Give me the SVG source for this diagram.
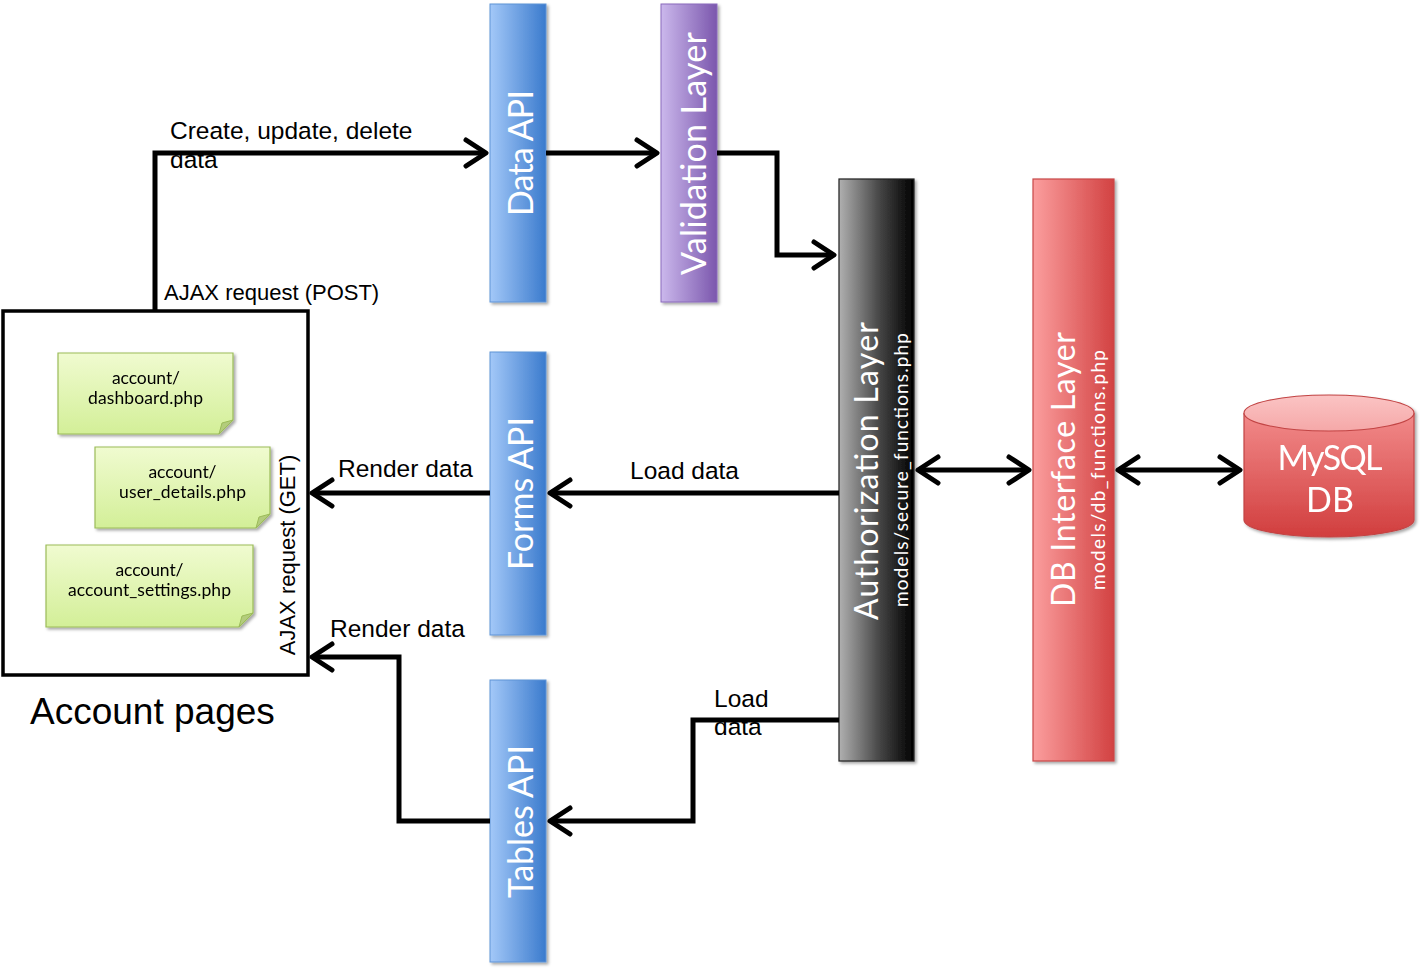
<svg xmlns="http://www.w3.org/2000/svg" width="1422" height="974" viewBox="0 0 1422 974">
<style>
.lbl{font-family:"Liberation Sans",Arial,sans-serif;fill:#000;}
.bar{font-family:Lato,"Open Sans",sans-serif;fill:#fff;font-weight:400;}
.note{font-family:Lato,"Open Sans",sans-serif;fill:#000;font-size:17.5px;text-anchor:middle;}
.conn{fill:none;stroke:#000;stroke-width:5;stroke-linejoin:miter;}
</style>
<defs>
<linearGradient id="gBlue" x1="0" y1="0" x2="1" y2="0"><stop offset="0" stop-color="#a3c8f8"/><stop offset="1" stop-color="#3b7bcd"/></linearGradient>
<linearGradient id="gPurple" x1="0" y1="0" x2="1" y2="0"><stop offset="0" stop-color="#cbb8ec"/><stop offset="1" stop-color="#7b57ad"/></linearGradient>
<linearGradient id="gBlack" x1="0" y1="0" x2="1" y2="0"><stop offset="0" stop-color="#b0b0b0"/><stop offset="0.55" stop-color="#444"/><stop offset="1" stop-color="#000"/></linearGradient>
<linearGradient id="gRed" x1="0" y1="0" x2="1" y2="0"><stop offset="0" stop-color="#fb9e9e"/><stop offset="1" stop-color="#d24242"/></linearGradient>
<linearGradient id="gCyl" x1="0" y1="0" x2="0" y2="1"><stop offset="0" stop-color="#f28a8a"/><stop offset="1" stop-color="#d13e3e"/></linearGradient>
<linearGradient id="gCylTop" x1="0" y1="0" x2="0" y2="1"><stop offset="0" stop-color="#fbc4c4"/><stop offset="1" stop-color="#f5a8a8"/></linearGradient>
<linearGradient id="gNote" x1="0" y1="0" x2="0" y2="1"><stop offset="0" stop-color="#f0fbd0"/><stop offset="1" stop-color="#d3ef98"/></linearGradient>
<filter id="sh" x="-20%" y="-20%" width="140%" height="140%"><feDropShadow dx="2" dy="2" stdDeviation="1.5" flood-color="#000" flood-opacity="0.35"/></filter>
<marker id="arr" viewBox="-24 -16 28 32" refX="0" refY="0" markerWidth="28" markerHeight="32" markerUnits="userSpaceOnUse" orient="auto-start-reverse">
<path d="M-20,-13 L0,0 L-20,13" fill="none" stroke="#000" stroke-width="5" stroke-linecap="round" stroke-linejoin="round"/>
</marker>
</defs>
<rect width="1422" height="974" fill="#fff"/>

<g id="account-pages">
<rect x="3" y="311" width="305" height="364" fill="#fff" stroke="#000" stroke-width="3.5"/>
<text class="lbl" x="30" y="724" font-size="37">Account pages</text>
<text class="lbl" font-size="22" text-anchor="middle" transform="translate(295,555) rotate(-90)">AJAX request (GET)</text>
</g>

<g id="note-dashboard" filter="url(#sh)">
<path d="M58,353 H233 V420 L219,434 H58 Z" fill="url(#gNote)" stroke="#9bbb59" stroke-width="1.2"/>
<path d="M233,420 L219,434 L222,423 Z" fill="#b3cc7c" stroke="#9bbb59" stroke-width="1"/>
<text class="note" x="146" y="384" textLength="68">account/</text>
<text class="note" x="145.5" y="404" textLength="115">dashboard.php</text>
</g>
<g id="note-user-details" filter="url(#sh)">
<path d="M95,447 H270 V514 L256,528 H95 Z" fill="url(#gNote)" stroke="#9bbb59" stroke-width="1.2"/>
<path d="M270,514 L256,528 L259,517 Z" fill="#b3cc7c" stroke="#9bbb59" stroke-width="1"/>
<text class="note" x="182.5" y="478" textLength="68">account/</text>
<text class="note" x="182.5" y="498" textLength="127">user_details.php</text>
</g>
<g id="note-account-settings" filter="url(#sh)">
<path d="M46,545 H253 V613 L239,627 H46 Z" fill="url(#gNote)" stroke="#9bbb59" stroke-width="1.2"/>
<path d="M253,613 L239,627 L242,616 Z" fill="#b3cc7c" stroke="#9bbb59" stroke-width="1"/>
<text class="note" x="149.5" y="576" textLength="68">account/</text>
<text class="note" x="149.5" y="596" textLength="163">account_settings.php</text>
</g>

<g id="data-api">
<rect x="490" y="4" width="56" height="298" fill="url(#gBlue)" stroke="#5f93d6" stroke-width="1" filter="url(#sh)"/>
<text class="bar" font-size="34" text-anchor="middle" textLength="126" transform="translate(533,153) rotate(-90)">Data API</text>
</g>
<g id="validation-layer">
<rect x="661" y="4" width="56" height="298" fill="url(#gPurple)" stroke="#8a6abb" stroke-width="1" filter="url(#sh)"/>
<text class="bar" font-size="34" text-anchor="middle" textLength="243" transform="translate(706,153.5) rotate(-90)">Validation Layer</text>
</g>
<g id="forms-api">
<rect x="490" y="352" width="56" height="283" fill="url(#gBlue)" stroke="#5f93d6" stroke-width="1" filter="url(#sh)"/>
<text class="bar" font-size="34" text-anchor="middle" textLength="153" transform="translate(533,493.5) rotate(-90)">Forms API</text>
</g>
<g id="tables-api">
<rect x="490" y="680" width="56" height="282" fill="url(#gBlue)" stroke="#5f93d6" stroke-width="1" filter="url(#sh)"/>
<text class="bar" font-size="34" text-anchor="middle" textLength="153" transform="translate(533,821.5) rotate(-90)">Tables API</text>
</g>
<g id="authorization-layer">
<rect x="839" y="179" width="75" height="582" fill="url(#gBlack)" stroke="#222" stroke-width="1.2" filter="url(#sh)"/>
<text class="bar" font-size="32" text-anchor="middle" textLength="298" transform="translate(878,471) rotate(-90)">Authorization Layer</text>
<text class="bar" font-size="19" text-anchor="middle" textLength="274" transform="translate(908,470) rotate(-90)">models/secure_functions.php</text>
</g>
<g id="db-interface-layer">
<rect x="1033" y="179" width="81" height="582" fill="url(#gRed)" stroke="#c84848" stroke-width="1.2" filter="url(#sh)"/>
<text class="bar" font-size="32" text-anchor="middle" textLength="275" transform="translate(1075,469.5) rotate(-90)">DB Interface Layer</text>
<text class="bar" font-size="19" text-anchor="middle" textLength="240" transform="translate(1105,470) rotate(-90)">models/db_functions.php</text>
</g>
<g id="mysql-db" filter="url(#sh)">
<path d="M1244,413 V520 A85,17 0 0 0 1414,520 V413" fill="url(#gCyl)" stroke="#c24444" stroke-width="1.2"/>
<ellipse cx="1329" cy="413" rx="85" ry="18" fill="url(#gCylTop)" stroke="#c24444" stroke-width="1.2"/>
<text class="bar" x="1330" y="470" font-size="34" text-anchor="middle" textLength="105">MySQL</text>
<text class="bar" x="1330" y="512" font-size="34" text-anchor="middle">DB</text>
</g>

<g id="connectors">
<polyline class="conn" points="155,311 155,153 486,153" marker-end="url(#arr)"/>
<polyline class="conn" points="546,153 657,153" marker-end="url(#arr)"/>
<polyline class="conn" points="717,153 777,153 777,255 834,255" marker-end="url(#arr)"/>
<polyline class="conn" points="839,493 550,493" marker-end="url(#arr)"/>
<polyline class="conn" points="490,493 312,493" marker-end="url(#arr)"/>
<polyline class="conn" points="839,720 693,720 693,821 550,821" marker-end="url(#arr)"/>
<polyline class="conn" points="490,821 399,821 399,657 312,657" marker-end="url(#arr)"/>
<polyline class="conn" points="918,470 1029,470" marker-start="url(#arr)" marker-end="url(#arr)"/>
<polyline class="conn" points="1118,470 1240,470" marker-start="url(#arr)" marker-end="url(#arr)"/>
<text class="lbl" x="170" y="139" font-size="24.5">Create, update, delete</text>
<text class="lbl" x="170" y="168" font-size="24.5">data</text>
<text class="lbl" x="164" y="300" font-size="22">AJAX request (POST)</text>
<text class="lbl" x="338" y="477" font-size="24.5">Render data</text>
<text class="lbl" x="630" y="479" font-size="24.5">Load data</text>
<text class="lbl" x="330" y="637" font-size="24.5">Render data</text>
<text class="lbl" x="714" y="707" font-size="24.5">Load</text>
<text class="lbl" x="714" y="735" font-size="24.5">data</text>
</g>
</svg>
